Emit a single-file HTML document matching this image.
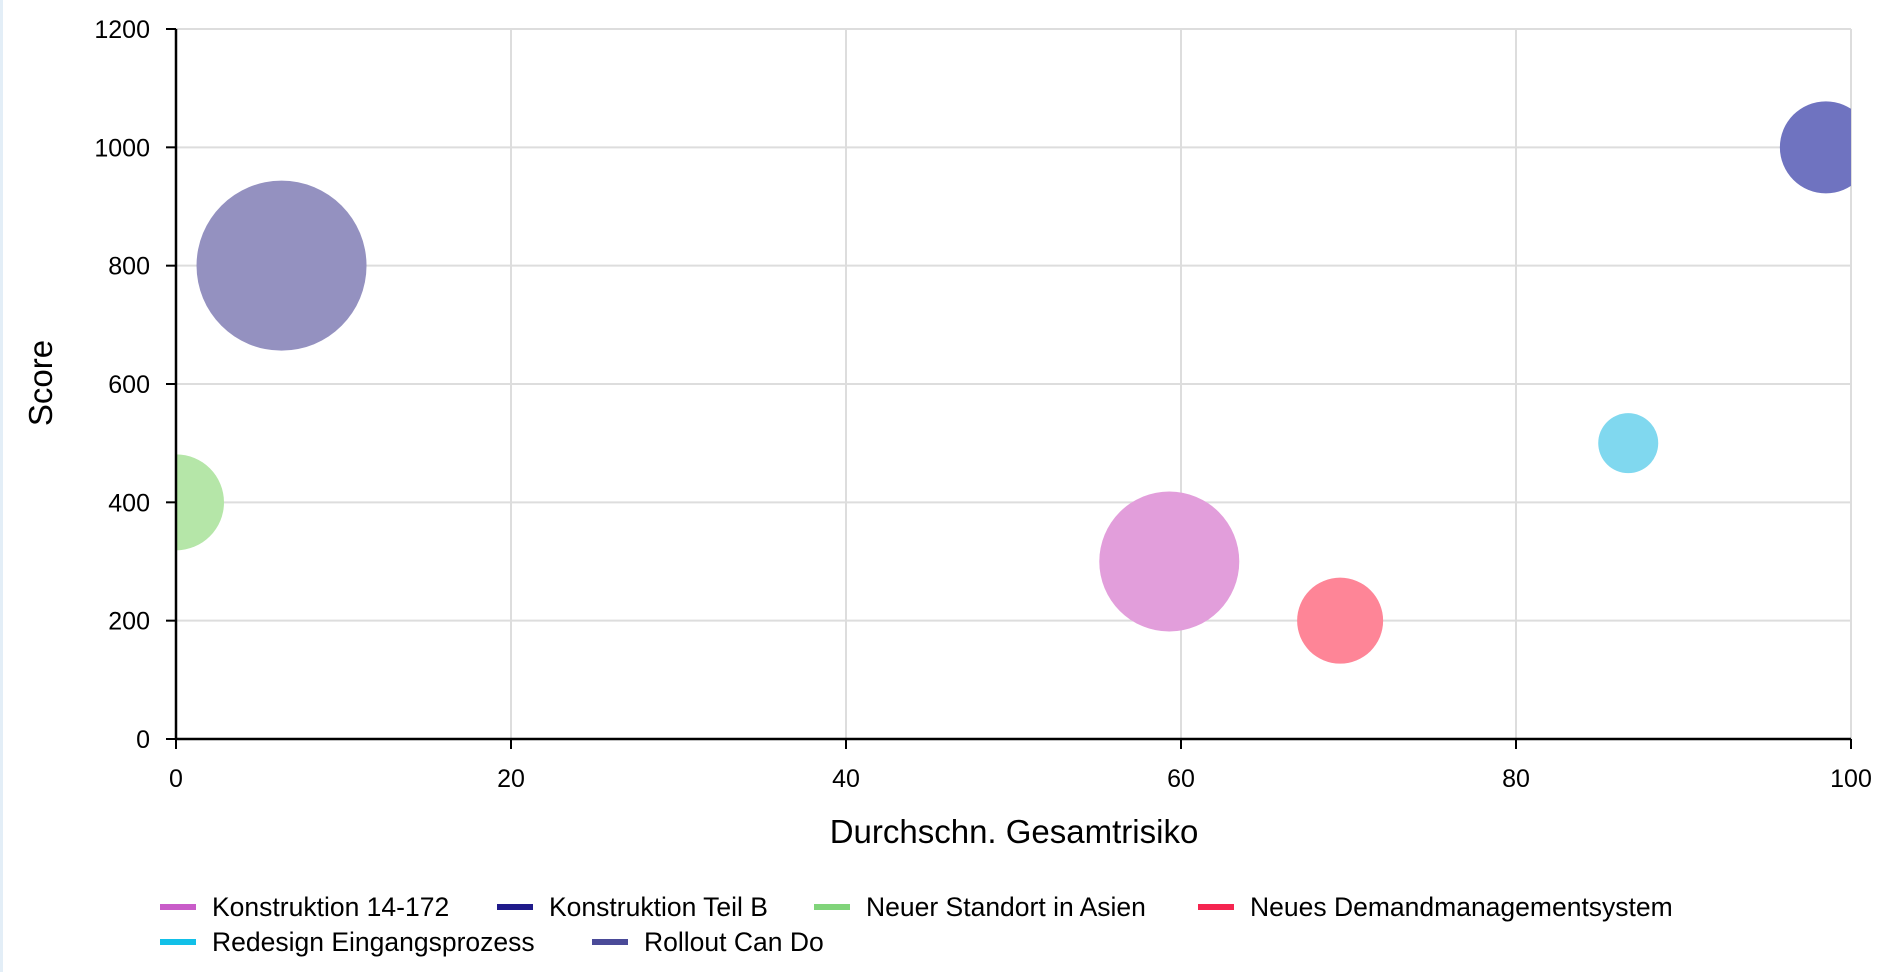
<!DOCTYPE html>
<html><head><meta charset="utf-8"><style>
body{margin:0;background:#fff;}
svg{display:block;font-family:"Liberation Sans",Arial,sans-serif;}
</style></head><body>
<svg id="c" width="1888" height="972">
<rect x="0" y="0" width="3" height="972" fill="#e3eef7"/>
<defs><clipPath id="pc"><rect x="176" y="29" width="1675" height="710"/></clipPath></defs>
<g id="grid"></g>
<g id="bubbles" clip-path="url(#pc)"></g>
<g id="axes"></g>
<text x="1014" y="843" font-size="33" text-anchor="middle">Durchschn. Gesamtrisiko</text>
<text x="0" y="0" font-size="33" text-anchor="middle" transform="translate(52,383) rotate(-90)">Score</text>
<g id="legend"></g>
</svg>
<script>
const names=["Konstruktion 14-172","Konstruktion Teil B","Neuer Standort in Asien","Neues Demandmanagementsystem","Redesign Eingangsprozess","Rollout Can Do"];
const xVals=[59.3,98.5,0,69.5,86.7,6.3];
const yVals=[300,1000,400,200,500,800];
const radii=[70,46,48,43,30,85];
const xTicks=[0,20,40,60,80,100];
const yTicks=[0,200,400,600,800,1000,1200];
const fills=["#e29edb","#6f73c0","#b5e6a8","#fe8597","#80d8ef","#9491c0"];
const legendColors=["#c95cc9","#1f1a8a","#80d47a","#f52550","#12c0e8","#4a4a98"];
const NS="http://www.w3.org/2000/svg";
const X=v=>176+(v/100)*1675, Y=v=>739-(v/1200)*710;
function mk(t,a,p){const e=document.createElementNS(NS,t);for(const k in a)e.setAttribute(k,a[k]);p.appendChild(e);return e;}
const g=document.getElementById('grid'),ax=document.getElementById('axes'),b=document.getElementById('bubbles'),lg=document.getElementById('legend');
xTicks.forEach(t=>{const l=mk('line',{x1:X(t),x2:X(t),y1:29,y2:739,stroke:'#dddddd','stroke-width':2},g);

const k=mk('line',{x1:X(t),x2:X(t),y1:739,y2:749,stroke:'#000','stroke-width':2},ax);

const tx=mk('text',{x:X(t),y:787,'font-size':25,'text-anchor':'middle'},ax);tx.textContent=t;
});
yTicks.forEach(t=>{const l=mk('line',{x1:176,x2:1851,y1:Y(t),y2:Y(t),stroke:'#dddddd','stroke-width':2},g);

const k=mk('line',{x1:166,x2:176,y1:Y(t),y2:Y(t),stroke:'#000','stroke-width':2},ax);

const tx=mk('text',{x:150,y:Y(t)+9,'font-size':25,'text-anchor':'end'},ax);tx.textContent=t;
});
const a1=mk('line',{x1:176,x2:176,y1:29,y2:740,stroke:'#000','stroke-width':2.5},ax);

const a2=mk('line',{x1:175,x2:1851,y1:739,y2:739,stroke:'#000','stroke-width':2.5},ax);

names.forEach((n,i)=>{const c=mk('circle',{cx:X(xVals[i]),cy:Y(yVals[i]),r:radii[i],fill:fills[i]},b);
});
const lx=[160,497,814,1198,160,592],ly=[907,907,907,907,942,942];
names.forEach((n,i)=>{const gg=mk('g',{},lg);
mk('line',{x1:lx[i],x2:lx[i]+36,y1:ly[i],y2:ly[i],stroke:legendColors[i],'stroke-width':6},gg);
const t=mk('text',{x:lx[i]+52,y:ly[i]+9,'font-size':26.5},gg);t.textContent=n;});
</script>
</body></html>
